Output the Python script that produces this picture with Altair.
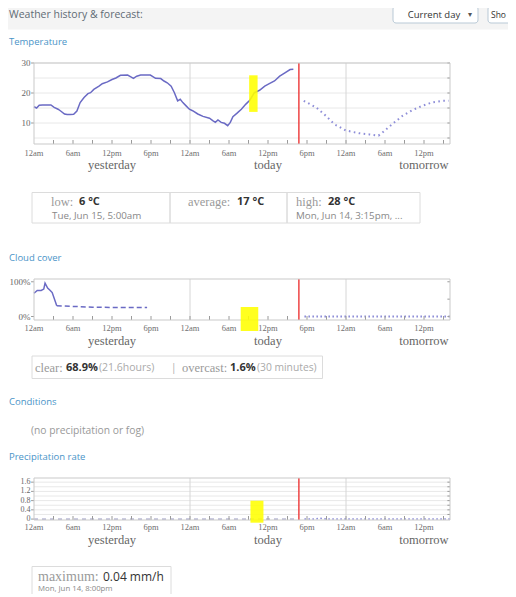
import altair as alt
import pandas as pd

# ---------------- data (hours counted from 12am yesterday) ----------------
temp_obs_hours = [0, 0.4, 0.8, 1.3, 2.0, 2.6, 3.1, 3.7, 4.1, 4.7, 5.1, 5.6, 6.1, 6.6, 7.1, 7.7,
                  8.3, 8.7, 9.2, 10.0, 10.5, 11.3, 12.0, 12.6, 13.3, 14.4, 14.9, 15.3, 15.8, 16.4,
                  17.2, 17.9, 18.7, 19.5, 20.0, 20.5, 21.1, 21.6, 22.1, 22.5, 22.9, 23.4, 23.9,
                  24.4, 25.2, 26.0, 27.0, 27.5, 27.9, 28.3, 28.8, 29.3, 29.8, 30.2, 30.6, 31.2,
                  31.9, 32.6, 33.2, 33.9, 34.7, 35.5, 36.2, 37.0, 37.8, 38.6, 39.4, 39.9]
temp_obs_values = [15.4, 15.0, 15.9, 16.0, 16.0, 16.0, 15.2, 14.6, 14.0, 13.0, 12.8, 12.8, 12.9,
                   14.0, 16.8, 18.5, 19.8, 20.1, 21.2, 22.3, 23.1, 23.7, 24.5, 25.0, 25.9, 26.0,
                   25.4, 24.9, 25.6, 26.0, 26.0, 26.0, 24.9, 24.8, 24.0, 23.4, 22.3, 20.1, 17.4,
                   17.9, 16.8, 15.7, 14.6, 14.1, 13.0, 12.2, 11.6, 10.8, 10.2, 11.0, 10.2, 9.9,
                   9.1, 10.2, 12.1, 13.2, 14.6, 16.3, 17.6, 20.1, 20.9, 22.3, 23.1, 24.0, 25.6,
                   26.7, 27.8, 27.9]
temp_fc_hours = [41.5, 43.4, 44.9, 46.2, 48.0, 50.0, 51.6, 53.0, 53.6, 55.1, 56.7, 58.2, 59.7,
                 61.3, 62.8, 63.8]
temp_fc_values = [17.4, 15.2, 12.4, 9.6, 7.5, 6.6, 6.2, 5.8, 6.8, 9.6, 12.4, 14.3, 15.7, 16.9,
                  17.4, 17.4]

cloud_obs_hours = [0, 0.5, 1.1, 1.5, 1.7, 2.1, 2.5, 2.8, 3.5]
cloud_obs_values = [67, 75, 75, 79, 96, 82, 75, 69, 31]
cloud_est_hours = [3.5, 6, 9, 12, 15, 17.4]
cloud_est_values = [31, 29, 27, 26, 26, 26]
cloud_fc_hours = [41.6, 64]
cloud_fc_values = [0, 0]

precip_obs_hours = [0, 40]
precip_obs_values = [0, 0]
precip_fc_hours = [41.6, 43, 44, 45, 64]
precip_fc_values = [0, 0, 0.04, 0, 0]

now_hour = 40.75
midnight_hours = [24, 48]
tick_hours = [0, 6, 12, 18, 24, 30, 36, 42, 48, 54, 60]
tick_labels = ["12am", "6am", "12pm", "6pm", "12am", "6am", "12pm", "6pm", "12am", "6am", "12pm"]
minor_tick_hours = [3, 6, 9, 12, 15, 18, 21, 24, 27, 30, 33, 36, 39, 42, 45, 48, 51, 54, 57, 60, 63]
day_hours = [12, 36, 60]
day_labels = ["yesterday", "today", "tomorrow"]

temp_label_values = [10, 20, 30]
temp_label_texts = ["10", "20", "30"]
temp_grid_values = [5, 10, 15, 20, 25, 30]
cloud_label_values = [0, 100]
cloud_label_texts = ["0%", "100%"]
cloud_grid_values = [0, 50, 100]
precip_label_values = [0, 0.4, 0.8, 1.2, 1.6]
precip_label_texts = ["0", "0.4", "0.8", "1.2", "1.6"]
precip_grid_values = [0.2, 0.4, 0.6, 0.8, 1.0, 1.2, 1.4, 1.6]

# yellow highlight boxes: [hour_start, hour_end, value_low, value_high]
temp_highlight = [33.1, 34.4, 13.7, 25.9]
cloud_highlight = [31.8, 34.5, -41.7, 27.4]
precip_highlight = [33.3, 35.3, -0.157, 0.796]

# ---------------- styling / layout ----------------
SANS = "Open Sans"
SERIF = "Liberation Serif"
LINE = "#6a6ac4"
DOT = "#8e8ed8"
FILL = "#f1f1f9"
GRID = "#e8e8e8"
FRAME = "#c9c9c9"
TICK = "#9a9a9a"
BLUE = "#4a94c8"

XS = alt.Scale(domain=[0, 64], range=[26, 442])
PANELS = {
    "temp": dict(domain=[3, 30], range=[136, 55], label_row=145, day_row=157, label_size=9),
    "cloud": dict(domain=[-10, 108], range=[312, 271], label_row=320, day_row=332.5, label_size=9),
    "precip": dict(domain=[-0.04, 1.78], range=[512, 470], label_row=519, day_row=532, label_size=8),
}


def ysc(p):
    return alt.Scale(domain=PANELS[p]["domain"], range=PANELS[p]["range"])


def X(f="h"):
    return alt.X(f"{f}:Q", scale=XS, axis=None)


def Y(p, f="v"):
    return alt.Y(f"{f}:Q", scale=ysc(p), axis=None)


def px_to_units(p, px):
    d0, d1 = PANELS[p]["domain"]
    r0, r1 = PANELS[p]["range"]
    return px * (d1 - d0) / (r0 - r1)


def label(text, x, y, size=10, font=SANS, color="#666", weight="normal", align="left"):
    return alt.Chart(pd.DataFrame({"t": [text]})).mark_text(
        align=align, baseline="middle", font=font, fontSize=size, fontWeight=weight, color=color
    ).encode(x=alt.value(x), y=alt.value(y), text="t:N")


def box(x0, x1, y0, y1, fill="white", stroke="#dcdcdc", radius=0):
    return alt.Chart(pd.DataFrame({"a": [0]})).mark_rect(
        fill=fill, stroke=stroke, strokeWidth=1, cornerRadius=radius
    ).encode(x=alt.value(x0), x2=alt.value(x1), y=alt.value(y0), y2=alt.value(y1))


def series_line(p, hours, values, color=LINE, dash=None, width=1.5):
    kw = dict(color=color, strokeWidth=width)
    if dash:
        kw["strokeDash"] = dash
    return alt.Chart(pd.DataFrame({"h": hours, "v": values})).mark_line(**kw).encode(
        x=X(), y=Y(p), order="h:Q")


def series_area(p, hours, values):
    d0 = PANELS[p]["domain"][0]
    df = pd.DataFrame({"h": hours, "v": values, "b": [d0] * len(hours)})
    return alt.Chart(df).mark_area(color=FILL, opacity=1).encode(
        x=X(), y=Y(p), y2="b:Q", order="h:Q")


def panel(p, lines, areas, label_vals, label_txts, grid_vals, highlight, draw_grid=True):
    d0, d1 = PANELS[p]["domain"]
    cfg = PANELS[p]
    layers = []
    layers.append(alt.Chart(pd.DataFrame({"h0": [0], "h1": [64], "v0": [d0], "v1": [d1]}))
                  .mark_rect(fill="white").encode(x=X("h0"), x2="h1:Q", y=Y(p, "v0"), y2="v1:Q"))
    layers += areas
    if draw_grid:
        gdf = pd.DataFrame({"v": grid_vals, "h0": [0] * len(grid_vals), "h1": [64] * len(grid_vals)})
        layers.append(alt.Chart(gdf).mark_rule(color=GRID, strokeWidth=1)
                      .encode(x=X("h0"), x2="h1:Q", y=Y(p)))
    mdf = pd.DataFrame({"h": midnight_hours, "v0": [d0] * 2, "v1": [d1] * 2})
    layers.append(alt.Chart(mdf).mark_rule(color="#d6d6d6", strokeWidth=1)
                  .encode(x=X(), y=Y(p, "v0"), y2="v1:Q"))
    layers += lines
    ndf = pd.DataFrame({"h": [now_hour], "v0": [d0], "v1": [d1]})
    layers.append(alt.Chart(ndf).mark_rule(color="#ee4444", strokeWidth=1.5)
                  .encode(x=X(), y=Y(p, "v0"), y2="v1:Q"))
    tl = px_to_units(p, 4)
    tdf = pd.DataFrame({"h": minor_tick_hours, "v0": [d0] * len(minor_tick_hours),
                        "v1": [d0 + tl] * len(minor_tick_hours)})
    layers.append(alt.Chart(tdf).mark_rule(color=TICK, strokeWidth=1)
                  .encode(x=X(), y=Y(p, "v0"), y2="v1:Q"))
    rdf = pd.DataFrame({"v": grid_vals, "h0": [64 - 0.4] * len(grid_vals), "h1": [64] * len(grid_vals)})
    layers.append(alt.Chart(rdf).mark_rule(color=TICK, strokeWidth=1)
                  .encode(x=X("h0"), x2="h1:Q", y=Y(p)))
    ldf = pd.DataFrame({"v": label_vals, "h0": [-0.45] * len(label_vals), "h1": [0] * len(label_vals)})
    layers.append(alt.Chart(ldf).mark_rule(color=TICK, strokeWidth=1)
                  .encode(x=X("h0"), x2="h1:Q", y=Y(p)))
    layers.append(alt.Chart(pd.DataFrame({"h0": [0], "h1": [64], "v0": [d0], "v1": [d1]}))
                  .mark_rect(fillOpacity=0, stroke=FRAME, strokeWidth=1)
                  .encode(x=X("h0"), x2="h1:Q", y=Y(p, "v0"), y2="v1:Q"))
    ydf = pd.DataFrame({"v": label_vals, "t": label_txts})
    layers.append(alt.Chart(ydf).mark_text(align="right", baseline="middle", font=SERIF,
                                           fontSize=cfg["label_size"], color="#666")
                  .encode(x=alt.value(22.5), y=Y(p), text="t:N"))
    xdf = pd.DataFrame({"h": tick_hours, "t": tick_labels})
    layers.append(alt.Chart(xdf).mark_text(align="center", baseline="middle", font=SERIF,
                                           fontSize=8.5, color="#707070")
                  .encode(x=X(), y=alt.value(cfg["label_row"]), text="t:N"))
    ddf = pd.DataFrame({"h": day_hours, "t": day_labels})
    layers.append(alt.Chart(ddf).mark_text(align="center", baseline="middle", font=SERIF,
                                           fontSize=12.5, color="#666")
                  .encode(x=X(), y=alt.value(cfg["day_row"]), text="t:N"))
    hdf = pd.DataFrame({"h0": [highlight[0]], "h1": [highlight[1]],
                        "v0": [highlight[2]], "v1": [highlight[3]]})
    layers.append(alt.Chart(hdf).mark_rect(color="#ffff00", opacity=0.88)
                  .encode(x=X("h0"), x2="h1:Q", y=Y(p, "v0"), y2="v1:Q"))
    return layers


layers = []
# header bar
layers.append(box(0, 500, -10, 21, fill="#f4f4f4", stroke="#f4f4f4"))
layers.append(label("Weather history & forecast:", 1, 7, size=10.5, color="#5f6b74"))
layers.append(box(385, 470, -2, 15, fill="white", stroke="#b9c9d6", radius=3))
layers.append(label("Current day", 426, 7, size=9.5, color="#333", align="center"))
layers.append(label("▾", 462, 7, size=8, color="#555", align="center"))
layers.append(box(480, 515, -2, 15, fill="white", stroke="#b9c9d6", radius=3))
layers.append(label("Sho", 483, 7, size=8.5, color="#333"))

# Temperature
layers.append(label("Temperature", 1, 34, size=9.5, color=BLUE))
layers += panel(
    "temp",
    lines=[series_line("temp", temp_obs_hours, temp_obs_values),
           series_line("temp", temp_fc_hours, temp_fc_values, color=DOT, dash=[1.6, 3.4], width=2)],
    areas=[series_area("temp", temp_obs_hours, temp_obs_values),
           series_area("temp", temp_fc_hours, temp_fc_values)],
    label_vals=temp_label_values, label_txts=temp_label_texts,
    grid_vals=temp_grid_values, highlight=temp_highlight)

layers.append(box(24, 412, 184.5, 215))
layers.append(box(162, 162, 184.5, 215))
layers.append(box(279, 279, 184.5, 215))
layers.append(label("low:", 43, 194, size=12.5, font=SERIF, color="#9a9a9a"))
layers.append(label("6 °C", 71, 194, size=11, weight="bold", color="#333"))
layers.append(label("Tue, Jun 15, 5:00am", 44, 208, size=9.8, color="#888"))
layers.append(label("average:", 180, 194, size=12.5, font=SERIF, color="#9a9a9a"))
layers.append(label("17 °C", 229, 194, size=11, weight="bold", color="#333"))
layers.append(label("high:", 288, 194, size=12.5, font=SERIF, color="#9a9a9a"))
layers.append(label("28 °C", 320, 194, size=11, weight="bold", color="#333"))
layers.append(label("Mon, Jun 14, 3:15pm, ...", 288, 208, size=9.8, color="#888"))

# Cloud cover
layers.append(label("Cloud cover", 1, 250, size=9.5, color=BLUE))
layers += panel(
    "cloud",
    lines=[series_line("cloud", cloud_obs_hours, cloud_obs_values),
           series_line("cloud", cloud_est_hours, cloud_est_values, dash=[5, 3]),
           series_line("cloud", cloud_fc_hours, cloud_fc_values, color=DOT, dash=[1.6, 2.4], width=2)],
    areas=[series_area("cloud", cloud_obs_hours, cloud_obs_values)],
    label_vals=cloud_label_values, label_txts=cloud_label_texts,
    grid_vals=cloud_grid_values, highlight=cloud_highlight, draw_grid=False)

layers.append(box(24, 314.5, 348, 370.5))
layers.append(label("clear:", 27, 360, size=12.5, font=SERIF, color="#9a9a9a"))
layers.append(label("68.9%", 58, 360, size=11, weight="bold", color="#333"))
layers.append(label("(21.6hours)", 91, 360, size=10.5, color="#aaa"))
layers.append(label("|", 163, 360, size=10, color="#aaa"))
layers.append(label("overcast:", 174, 360, size=12.5, font=SERIF, color="#9a9a9a"))
layers.append(label("1.6%", 222, 360, size=11, weight="bold", color="#333"))
layers.append(label("(30 minutes)", 249, 360, size=10.3, color="#aaa"))

# Conditions
layers.append(label("Conditions", 1, 393.5, size=9.5, color=BLUE))
layers.append(label("(no precipitation or fog)", 23, 422.5, size=10.3, color="#999"))

# Precipitation rate
layers.append(label("Precipitation rate", 1, 449, size=9.5, color=BLUE))
layers += panel(
    "precip",
    lines=[series_line("precip", precip_obs_hours, precip_obs_values, color="#8a8ab8", dash=[4, 4], width=1),
           series_line("precip", precip_fc_hours, precip_fc_values, color=DOT, dash=[1.6, 2.4], width=1.5)],
    areas=[],
    label_vals=precip_label_values, label_txts=precip_label_texts,
    grid_vals=precip_grid_values, highlight=precip_highlight)

layers.append(box(24, 163, 558.5, 600))
layers.append(label("maximum:", 30, 569, size=14, font=SERIF, color="#9a9a9a"))
layers.append(label("0.04 mm/h", 95, 569, size=12, color="#333"))
layers.append(label("Mon, Jun 14, 8:00pm", 30, 580.5, size=7.8, color="#888"))

chart = alt.layer(*layers).resolve_scale(x="independent", y="independent").properties(
    width=500, height=586, padding=0, autosize="none"
).configure_view(stroke=None)

chart.save("out.html", embed_options={"renderer": "svg", "actions": False})
